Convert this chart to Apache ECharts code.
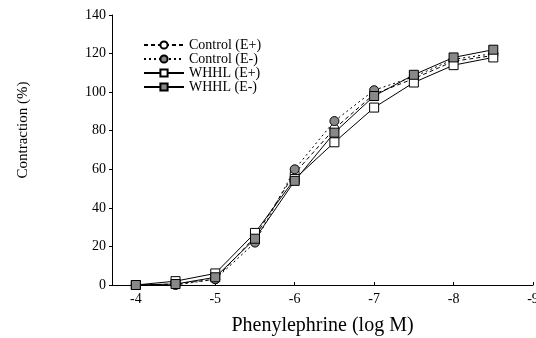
<!DOCTYPE html>
<html><head><meta charset="utf-8">
<script src="https://cdn.jsdelivr.net/npm/echarts@6/dist/echarts.min.js"></script>
<style>html,body{margin:0;padding:0;background:#fff}#c{width:536px;height:338px}</style>
</head><body><div id="c"></div>
<script>
const logDose = [-4, -4.5, -5, -5.5, -6, -6.5, -7, -7.5, -8, -8.5];
const controlEplus = [0, 0.5, 3, 25, 58, 81, 99, 107, 116, 119];
const controlEminus = [0, 0, 3, 22, 60, 85, 101, 108, 117, 120];
const whhlEplus = [0, 2, 6, 27, 55, 74, 92, 105, 114, 118];
const whhlEminus = [0, 0.5, 4, 24, 54, 79, 98, 109, 118, 122];
const seriesNames = ['Control (E+)', 'Control (E-)', 'WHHL (E+)', 'WHHL (E-)'];
const yTicks = [0, 20, 40, 60, 80, 100, 120, 140];

const font = 'Liberation Serif';
function pairs(vals){ return logDose.map((x,i)=>[x, vals[i]]); }
function mk(name, vals, symbol, fill, lineType){
  return {
    name, type:'line', data: pairs(vals), symbol, symbolSize: 9,
    itemStyle:{color: fill, borderColor:'#000', borderWidth:1},
    lineStyle:{color:'#000', width:1, type: lineType},
    emphasis:{disabled:true}, animation:false
  };
}
const chart = echarts.init(document.getElementById('c'));
chart.setOption({
  backgroundColor:'#fff',
  animation:false,
  grid:{left:112, right:3, top:15, bottom:53, outerBoundsMode:'none', containLabel:false},
  legend:{
    orient:'vertical', left:143, top:38, itemGap:0, itemWidth:40, itemHeight:9,
    textStyle:{fontFamily:font, fontSize:14, color:'#000', lineHeight:14, padding:[0,0,0,0]},
    padding:0,
    data: seriesNames
  },
  graphic:[{
    type:'text', x:23, y:130, rotation:Math.PI/2,
    style:{text:'Contraction (%)', fontFamily:font, fontSize:15, fill:'#000',
      textAlign:'center', textVerticalAlign:'middle'}
  }],
  xAxis:{
    type:'value', min:-9, max:-3.7, interval:1, inverse:true,
    name:'Phenylephrine (log M)', nameLocation:'middle', nameGap:31,
    nameTextStyle:{fontFamily:font, fontSize:20, color:'#000'},
    axisLine:{lineStyle:{color:'#000', width:1}},
    axisTick:{inside:true, length:3, lineStyle:{color:'#000'}},
    axisLabel:{fontFamily:font, fontSize:14, color:'#000', margin:7,
      formatter: v => Number.isInteger(v) ? String(v) : ''},
    splitLine:{show:false}
  },
  yAxis:{
    type:'value', min:yTicks[0], max:yTicks[yTicks.length-1], interval:20,
    axisLine:{show:true, lineStyle:{color:'#000', width:1}},
    axisTick:{show:true, length:3, lineStyle:{color:'#000'}},
    axisLabel:{fontFamily:font, fontSize:14, color:'#000', margin:6},
    splitLine:{show:false}
  },
  series:[
    mk(seriesNames[0], controlEplus, 'circle', '#fff', [4,3]),
    mk(seriesNames[1], controlEminus, 'circle', '#888', [2,3]),
    mk(seriesNames[2], whhlEplus, 'rect', '#fff', 'solid'),
    mk(seriesNames[3], whhlEminus, 'rect', '#888', 'solid')
  ]
});
</script></body></html>
